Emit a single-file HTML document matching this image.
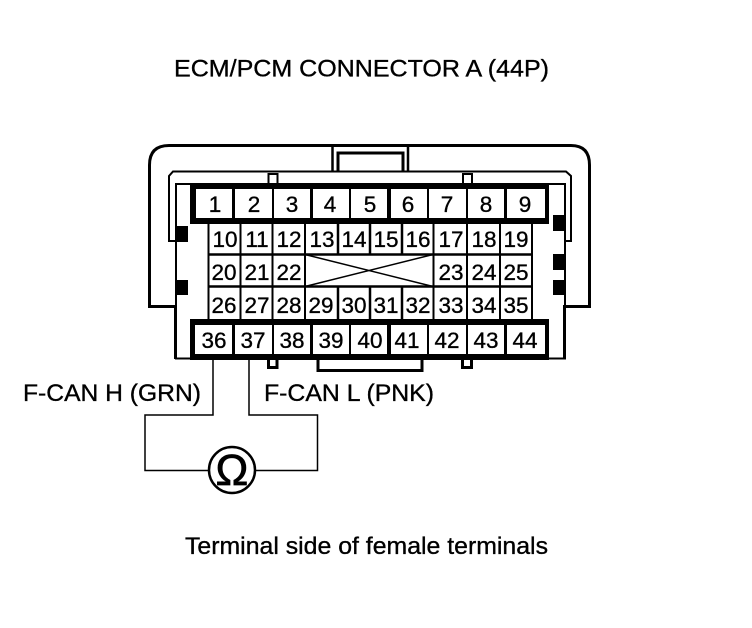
<!DOCTYPE html>
<html><head><meta charset="utf-8"><style>
html,body{margin:0;padding:0;background:#fff;width:752px;height:628px;overflow:hidden}
svg{display:block}
text{font-family:"Liberation Sans",sans-serif;fill:#000;stroke:#000;stroke-width:.35px}
.n{font-size:22.5px;text-anchor:middle}
.l{font-size:24px}
</style></head><body>
<svg width="752" height="628" viewBox="0 0 752 628" xmlns="http://www.w3.org/2000/svg">
<rect width="752" height="628" fill="#fff"/>
<g fill="none" stroke="#000">
<path d="M176 306.500H149.500V165Q149.500 145.500 169 145.500H571Q589.500 145.500 589.500 165V306.500H565" stroke-width="3"/>
<path d="M176 241H169V176L173 171.500H566L571 176V241H565" stroke-width="2"/>
<path d="M332.500 145V171M408 145V171" stroke-width="2.500"/>
<path d="M338 171V153H403V171" stroke-width="3"/>
<path d="M268.500 183V174H277.500V183M463 183V174H472V183" stroke-width="2"/>
<path d="M176 184H565V358.500H176Z" stroke-width="2"/>
<path d="M175.500 305V359M564.500 305V359" stroke-width="3"/>
<path d="M268.500 360V367.500H277V360M462.500 360V367.500H471.500V360" stroke-width="3"/>
<path d="M318 360V370.500H422V360" stroke-width="3"/>
</g>
<g fill="#000">
<rect x="176" y="226" width="12" height="16"/>
<rect x="176" y="280" width="12" height="15"/>
<rect x="553" y="215" width="12" height="16"/>
<rect x="553" y="254" width="12" height="16"/>
<rect x="553" y="280" width="12" height="15"/>
<rect x="190" y="183" width="359" height="41"/>
<rect x="190" y="319" width="359" height="41"/>
</g>
<g fill="#fff">
<rect x="196" y="189" width="36" height="29"/><rect x="235" y="189" width="37" height="29"/><rect x="274" y="189" width="36" height="29"/><rect x="313" y="189" width="36" height="29"/><rect x="351" y="189" width="36" height="29"/><rect x="391" y="189" width="36" height="29"/><rect x="429" y="189" width="37" height="29"/><rect x="468" y="189" width="36" height="29"/><rect x="507" y="189" width="38" height="29"/>
<rect x="195" y="325" width="37" height="29"/><rect x="235" y="325" width="37" height="29"/><rect x="274" y="325" width="36" height="29"/><rect x="313" y="325" width="36" height="29"/><rect x="351" y="325" width="36" height="29"/><rect x="391" y="325" width="36" height="29"/><rect x="429" y="325" width="37" height="29"/><rect x="468" y="325" width="36" height="29"/><rect x="507" y="325" width="38" height="29"/>
</g>
<g stroke="#000" fill="none">
<path d="M208.500 224V319M240.500 224V319M272.500 224V319M305 224V319M433.500 224V319M467 224V319M500 224V319M532 224V319" stroke-width="2"/>
<path d="M338 224V254M338 287V319M370 224V254M370 287V319M402 224V254M402 287V319" stroke-width="2.500"/>
<path d="M208 254.500H532M208 286.500H532" stroke-width="2.500"/>
<path d="M305 254.500L433 286.500M305 286.500L433 254.500" stroke-width="1.500"/>
<path d="M213 360V415H145V470.500H209M249 360V415H317.500V470.500H255" stroke-width="1.500"/>
<circle cx="232" cy="470" r="23" stroke-width="2.500" fill="#fff"/>
</g>
<text x="232" y="485" font-size="44" style="text-anchor:middle;stroke-width:.7px">Ω</text>
<text class="l" x="174" y="76.500" textLength="375" lengthAdjust="spacingAndGlyphs">ECM/PCM CONNECTOR A (44P)</text>
<text class="l" x="23" y="401" textLength="178" lengthAdjust="spacingAndGlyphs">F-CAN H (GRN)</text>
<text class="l" x="264" y="401" textLength="170" lengthAdjust="spacingAndGlyphs">F-CAN L (PNK)</text>
<text class="l" x="185" y="554" textLength="363" lengthAdjust="spacingAndGlyphs">Terminal side of female terminals</text>
<g>
<text class="n" x="215" y="212">1</text><text class="n" x="254" y="212">2</text><text class="n" x="292" y="212">3</text><text class="n" x="330" y="212">4</text><text class="n" x="370" y="212">5</text><text class="n" x="408" y="212">6</text><text class="n" x="447" y="212">7</text><text class="n" x="486" y="212">8</text><text class="n" x="525" y="212">9</text>
<text class="n" x="225" y="247">10</text><text class="n" x="257" y="247">11</text><text class="n" x="289" y="247">12</text><text class="n" x="322" y="247">13</text><text class="n" x="354" y="247">14</text><text class="n" x="386" y="247">15</text><text class="n" x="418" y="247">16</text><text class="n" x="451" y="247">17</text><text class="n" x="484" y="247">18</text><text class="n" x="516" y="247">19</text>
<text class="n" x="224" y="280">20</text><text class="n" x="257" y="280">21</text><text class="n" x="289" y="280">22</text><text class="n" x="451" y="280">23</text><text class="n" x="484" y="280">24</text><text class="n" x="516" y="280">25</text>
<text class="n" x="224" y="313">26</text><text class="n" x="257" y="313">27</text><text class="n" x="289" y="313">28</text><text class="n" x="321" y="313">29</text><text class="n" x="354" y="313">30</text><text class="n" x="386" y="313">31</text><text class="n" x="418" y="313">32</text><text class="n" x="451" y="313">33</text><text class="n" x="484" y="313">34</text><text class="n" x="516" y="313">35</text>
<text class="n" x="214" y="348">36</text><text class="n" x="253" y="348">37</text><text class="n" x="292" y="348">38</text><text class="n" x="331" y="348">39</text><text class="n" x="370" y="348">40</text><text class="n" x="407" y="348">41</text><text class="n" x="447" y="348">42</text><text class="n" x="486" y="348">43</text><text class="n" x="525" y="348">44</text>
</g>
</svg>
</body></html>
